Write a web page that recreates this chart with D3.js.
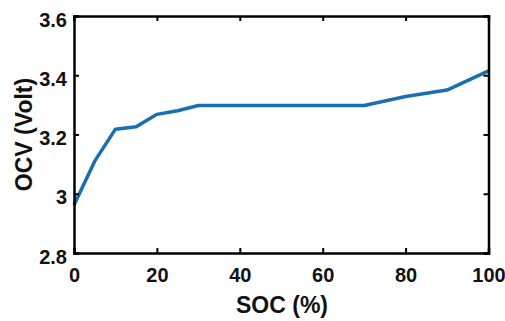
<!DOCTYPE html>
<html>
<head>
<meta charset="utf-8">
<script src="https://cdn.jsdelivr.net/npm/d3@7"></script>
<style>
  html, body { margin: 0; padding: 0; background: #fff; }
  svg text { font-family: "Liberation Sans", Arial, sans-serif; font-weight: bold; fill: #111; }
</style>
</head>
<body>
<div id="chart"></div>
<script>
// SOC (%) vs open circuit voltage
const soc = [0, 5, 10, 15, 20, 25, 30, 40, 50, 60, 70, 80, 90, 100];
const ocv = [2.962, 3.11, 3.218, 3.226, 3.268, 3.28, 3.298, 3.298, 3.298, 3.298, 3.298, 3.328, 3.35, 3.415];
const xTicks = [0, 20, 40, 60, 80, 100];
const yTicks = [2.8, 3.0, 3.2, 3.4, 3.6];

const W = 505, H = 321;
const margin = { top: 16, right: 16.5, bottom: 68, left: 74 };
const width = W - margin.left - margin.right;
const height = H - margin.top - margin.bottom;

const svg = d3.select("#chart").append("svg")
    .attr("width", W)
    .attr("height", H);

const g = svg.append("g")
    .attr("transform", `translate(${margin.left},${margin.top})`);

const x = d3.scaleLinear().domain([0, 100]).range([0, width]);
const y = d3.scaleLinear().domain([2.8, 3.6]).range([height, 0]);

const fmtY = d => d === 3 ? "3" : d3.format(".1f")(d);

// data line
const line = d3.line()
    .x((d, i) => x(soc[i]))
    .y(d => y(d));

g.append("path")
    .datum(ocv)
    .attr("fill", "none")
    .attr("stroke", "#1a6fb0")
    .attr("stroke-width", 3.5)
    .attr("stroke-linejoin", "round")
    .attr("d", line);

// axes, ticks pointing inward on all sides
const axBottom = g.append("g")
    .attr("transform", `translate(0,${height})`)
    .call(d3.axisBottom(x).tickValues(xTicks).tickSize(-5).tickPadding(8).tickFormat(d3.format("d")));
const axLeft = g.append("g")
    .call(d3.axisLeft(y).tickValues(yTicks).tickSize(-5).tickPadding(8).tickFormat(fmtY));
const axTop = g.append("g")
    .call(d3.axisTop(x).tickValues(xTicks).tickSize(-5).tickFormat(""));
const axRight = g.append("g")
    .attr("transform", `translate(${width},0)`)
    .call(d3.axisRight(y).tickValues(yTicks).tickSize(-5).tickFormat(""));

[axBottom, axLeft, axTop, axRight].forEach(a => {
    a.select(".domain").attr("stroke", "#000").attr("stroke-width", 2.5);
    a.selectAll(".tick line").attr("stroke", "#000").attr("stroke-width", 2);
});

axBottom.selectAll("text")
    .style("font-size", "20px")
    .attr("dy", "0.71em")
    .attr("y", 15);
axLeft.selectAll("text")
    .style("font-size", "20px")
    .attr("x", -7)
    .attr("dy", "0.5em");

// axis labels
svg.append("text")
    .attr("x", 282)
    .attr("y", 313)
    .attr("text-anchor", "middle")
    .style("font-size", "23px")
    .text("SOC (%)");

svg.append("text")
    .attr("transform", `translate(32,${margin.top + height / 2}) rotate(-90)`)
    .attr("text-anchor", "middle")
    .style("font-size", "23px")
    .text("OCV (Volt)");
</script>
</body>
</html>
